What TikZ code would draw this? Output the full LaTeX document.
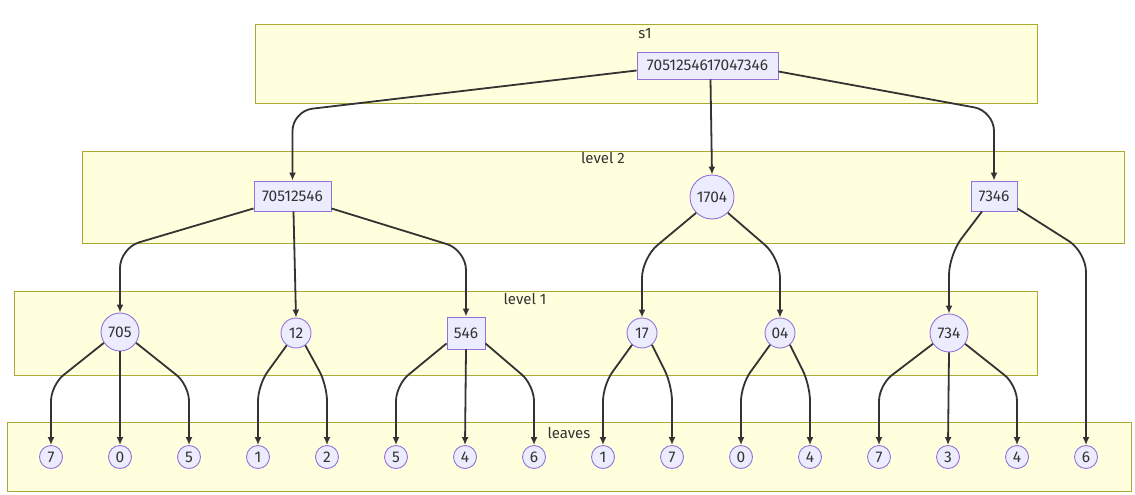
\documentclass[tikz,border=0pt]{standalone}
\usepackage{fontspec}
\setmainfont{Fira Sans}
\usetikzlibrary{arrows.meta}
\definecolor{boxfill}{HTML}{FFFFDE}
\definecolor{boxline}{HTML}{AAAA33}
\definecolor{nfill}{HTML}{ECECFF}
\definecolor{nline}{HTML}{9370DB}
\definecolor{ink}{HTML}{333333}
\begin{document}
\begin{tikzpicture}[x=1pt,y=-1pt,
  grp/.style={draw=boxline, fill=boxfill, line width=0.9pt},
  ttl/.style={text=ink, font=\fontsize{15}{17}\selectfont, inner sep=0pt},
  rbox/.style={draw=nline, fill=nfill, line width=0.9pt, text=ink, font=\fontsize{15.5}{17}\selectfont, inner sep=0pt},
  cnode/.style={circle, draw=nline, fill=nfill, line width=0.9pt, text=ink, font=\fontsize{15.5}{17}\selectfont, inner sep=0pt},
  edge/.style={draw=ink, line width=1.8pt, -{Latex[length=8pt,width=7pt]}, rounded corners=20pt},
  ledge/.style={edge, rounded corners=16pt},
]
\path[fill=white, use as bounding box] (0,0) rectangle (1135,495);
% groups
\draw[grp] (255,24) rectangle (1037,103);
\draw[grp] (82,151) rectangle (1124,243);
\draw[grp] (14,291) rectangle (1037,375);
\draw[grp] (7,422) rectangle (1131,491);
\node[ttl] (t1) at (645,34) {s1};
\node[ttl] (t2) at (603,158) {level 2};
\node[ttl] (t3) at (525,299) {level 1};
\node[ttl] (t4) at (569,433) {leaves};
% nodes
\node[rbox, minimum width=141pt, minimum height=27pt] (r) at (707.5,65.5) {7051254617047346};
\node[rbox, minimum width=77pt, minimum height=30pt] (a) at (292.5,196) {70512546};
\node[cnode, minimum size=44pt] (d) at (712,197) {1704};
\node[rbox, minimum width=46pt, minimum height=30pt] (c) at (994,196) {7346};
\node[cnode, minimum size=38pt] (n705) at (120,332) {705};
\node[cnode, minimum size=30pt] (n12) at (296,333) {12};
\node[rbox, minimum width=38pt, minimum height=32pt] (n546) at (466,333) {546};
\node[cnode, minimum size=30pt] (n17) at (642,333) {17};
\node[cnode, minimum size=30pt] (n04) at (780,333) {04};
\node[cnode, minimum size=38pt] (n734) at (949,333) {734};
\foreach \v [count=\i] in {7,0,5,1,2,5,4,6,1,7,0,4,7,3,4,6}
  \node[cnode, minimum size=23pt] (l\i) at ({51+69*(\i-1)},457) {\v};
% edges root
\draw[edge] ([yshift=-5pt]r.west) -- (a.north |- 0,111) -- (a.north);
\draw[edge] ([xshift=3pt]r.south) -- (d.north);
\draw[edge] ([yshift=-6pt]r.east) -- (c.north |- 0,111) -- (c.north);
% edges level 2
\draw[edge] ([yshift=3pt]a.south west) -- (n705.north |- 0,248) -- (n705.north);
\draw[edge] ([xshift=1pt]a.south) -- (n12.north);
\draw[edge] ([yshift=3pt]a.south east) -- (n546.north |- 0,250) -- (n546.north);
\draw[edge] (d.225) -- (n17.north |- 0,258) -- (n17.north);
\draw[edge] (d.315) -- (n04.north |- 0,258) -- (n04.north);
\draw[edge] ([xshift=-12pt]c.south) -- (n734.north |- 0,255) -- (n734.north);
\draw[edge] ([yshift=3pt]c.south east) -- (l16.north |- 0,252) -- (l16.north);
% edges level 1
\draw[ledge] (n705.214) -- (l1.north |- 0,385) -- (l1.north);
\draw[ledge] (n705.south) -- (l2.north);
\draw[ledge] (n705.326) -- (l3.north |- 0,385) -- (l3.north);
\draw[ledge] (n12.233) -- (l4.north |- 0,385) -- (l4.north);
\draw[ledge] (n12.307) -- (l5.north |- 0,385) -- (l5.north);
\draw[ledge] ([yshift=6pt]n546.south west) -- (l6.north |- 0,385) -- (l6.north);
\draw[ledge] (n546.south) -- (l7.north);
\draw[ledge] ([yshift=6pt]n546.south east) -- (l8.north |- 0,385) -- (l8.north);
\draw[ledge] (n17.230) -- (l9.north |- 0,385) -- (l9.north);
\draw[ledge] (n17.310) -- (l10.north |- 0,385) -- (l10.north);
\draw[ledge] (n04.230) -- (l11.north |- 0,385) -- (l11.north);
\draw[ledge] (n04.310) -- (l12.north |- 0,385) -- (l12.north);
\draw[ledge] (n734.214) -- (l13.north |- 0,385) -- (l13.north);
\draw[ledge] (n734.south) -- (l14.north);
\draw[ledge] (n734.326) -- (l15.north |- 0,385) -- (l15.north);
\end{tikzpicture}
\end{document}
